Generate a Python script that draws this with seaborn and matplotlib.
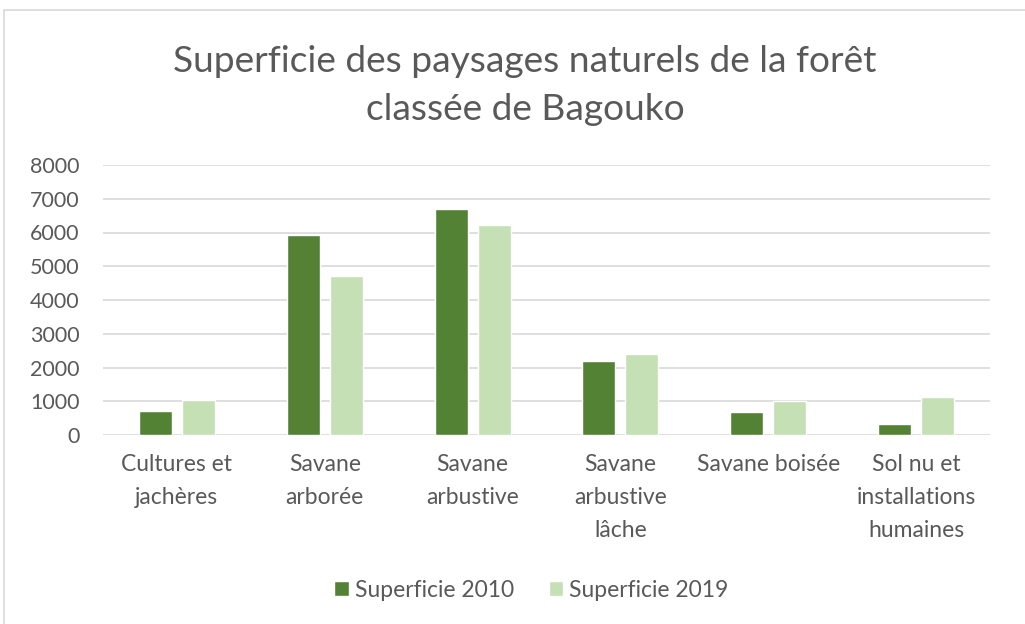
import matplotlib
matplotlib.use("Agg")
from matplotlib import pyplot as plt
from matplotlib.patches import Rectangle
import pandas as pd
import seaborn as sns

# data
categories = ["Cultures et\njachères", "Savane\narborée", "Savane\narbustive",
              "Savane\narbustive\nlâche", "Savane boisée",
              "Sol nu et\ninstallations\nhumaines"]
series = ["Superficie 2010", "Superficie 2019"]
sup_2010 = [720, 5930, 6690, 2200, 670, 320]
sup_2019 = [1030, 4700, 6220, 2400, 1010, 1130]
colors = ["#548235", "#C5E0B4"]

df = pd.DataFrame({
    "categorie": categories * 2,
    "serie": [series[0]] * len(categories) + [series[1]] * len(categories),
    "valeur": sup_2010 + sup_2019,
})

sns.set_style("white")
plt.rcParams["font.family"] = ["Lato", "DejaVu Sans"]
text_col = "#595959"

f = plt.figure(figsize=(10.25, 6.24), dpi=100)
ax = f.add_axes([103 / 1025, 1 - 435 / 624, 887 / 1025, 270 / 624])

sns.barplot(data=df, x="categorie", y="valeur", hue="serie", palette=colors,
            width=0.58, gap=0.23, ax=ax, saturation=1, legend=True)

ax.set_ylim(0, 8000)
ax.set_yticks(range(0, 8001, 1000))
ax.set_xlim(-0.5, 5.5)
ax.yaxis.grid(True, color="#d9d9d9", linewidth=1.2)
ax.set_axisbelow(True)
for s in ax.spines.values():
    s.set_visible(False)
ax.set_xlabel("")
ax.set_ylabel("")
ax.tick_params(axis="both", length=0, labelcolor=text_col)
ax.tick_params(axis="y", pad=17, labelsize=15.5)
ax.tick_params(axis="x", pad=14, labelsize=16.5)
for lbl in ax.get_xticklabels():
    lbl.set_linespacing(1.7)
    lbl.set_verticalalignment("top")

leg = ax.legend(loc="center", bbox_to_anchor=(0.483, -0.575), ncol=2, frameon=False,
                fontsize=16.5, labelcolor=text_col, handlelength=0.65, handleheight=0.65,
                handletextpad=0.25, columnspacing=1.5)

f.text(525 / 1025, 1 - 62 / 624, "Superficie des paysages naturels de la forêt",
       ha="center", va="center", fontsize=26.7, color=text_col)
f.text(525 / 1025, 1 - 110 / 624, "classée de Bagouko",
       ha="center", va="center", fontsize=26.7, color=text_col)

f.patches.append(Rectangle((4 / 1025, -0.05), 1.05, 1 - 10 / 624 + 0.05,
                           transform=f.transFigure, fill=False,
                           edgecolor="#d9d9d9", linewidth=1.2))

plt.savefig("out.png", dpi=100)
plt.close("all")
